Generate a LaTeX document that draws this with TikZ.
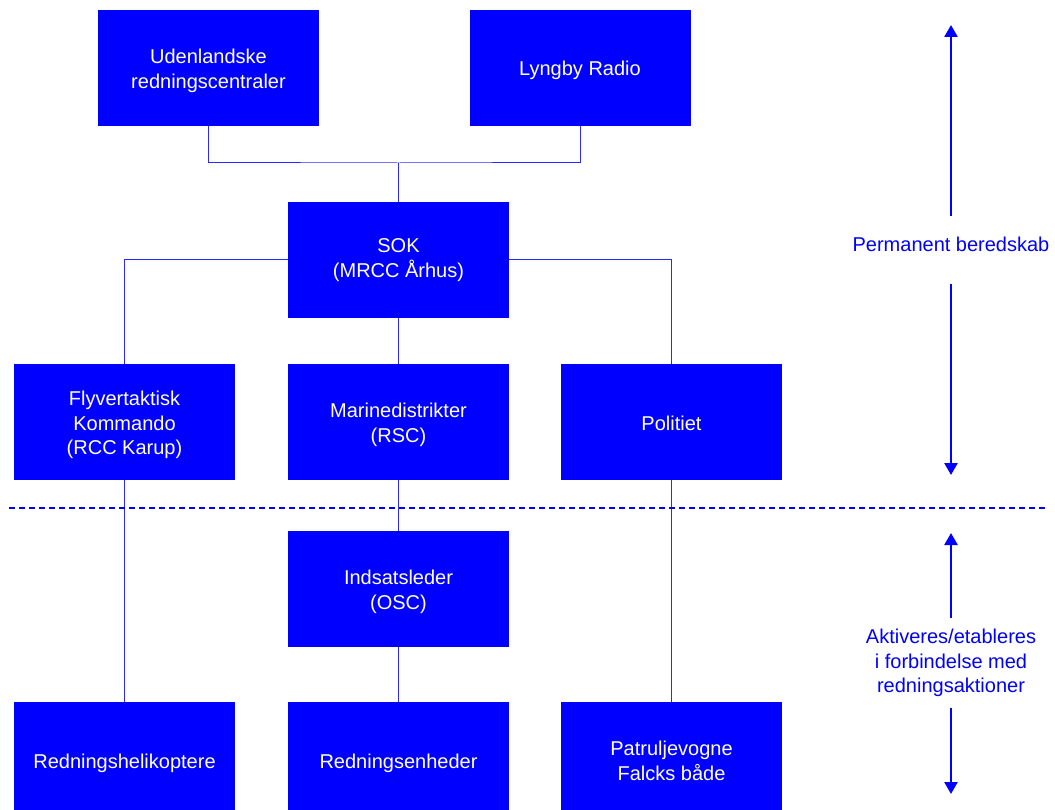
\documentclass[tikz,border=0pt]{standalone}
\usepackage{fontspec}
\setmainfont{Liberation Sans}
\usetikzlibrary{arrows.meta}
\definecolor{boxblue}{RGB}{0,0,255}
\definecolor{lineblue}{RGB}{40,40,255}
\newcommand{\linetop}{\rule{0pt}{20.25pt}}
\newcommand{\linebot}{\rule[-4.25pt]{0pt}{4.25pt}}
\tikzset{
  unit/.style={fill=boxblue, text=white, align=center, inner sep=0pt,
    minimum width=221pt, minimum height=116pt,
    font=\fontsize{20}{24.5}\selectfont},
  link/.style={draw=lineblue, line width=1pt},
  phase/.style={text=boxblue, align=center, inner sep=0pt,
    font=\fontsize{20}{24.5}\selectfont},
  span/.style={draw=boxblue, line width=2.5pt, -{Triangle[width=13pt,length=12pt]}}
}
\begin{document}
\begin{tikzpicture}[x=1pt,y=-1pt]
    \clip (0,0) rectangle (1055,810);
    % top row
    \node[unit] (uden) at (208.5,68) {\linetop Udenlandske\\redningscentraler\linebot};
    \node[unit] (lyngby) at (580,68) {\linetop Lyngby Radio\linebot};
    \node[unit] (sok) at (398.5,260) {\rule{0pt}{17.25pt}SOK\\(MRCC Århus)\rule[-7.25pt]{0pt}{7.25pt}};
    % permanent units
    \node[unit] (fly) at (124.5,422) {\linetop Flyvertaktisk\\Kommando\\(RCC Karup)\linebot};
    \node[unit] (marine) at (398.5,422) {\linetop Marinedistrikter\\(RSC)\linebot};
    \node[unit] (politi) at (671.5,422) {\linetop Politiet\linebot};
    % activated units
    \node[unit] (osc) at (398.5,589) {\linetop Indsatsleder\\(OSC)\linebot};
    \node[unit] (heli) at (124.5,760) {\linetop Redningshelikoptere\linebot};
    \node[unit] (enheder) at (398.5,760) {\linetop Redningsenheder\linebot};
    \node[unit] (patrulje) at (671.5,760) {\linetop Patruljevogne\\Falcks både\linebot};

    \coordinate (join) at (398.5,163);
    \draw[link] (uden.south) |- (join) -| (lyngby.south);
    \draw[link] (join) -- (sok.north);
    \draw[link] (sok.west) -| (fly.north);
    \draw[link] (sok.east) -| (politi.north);
    \draw[link] (sok.south) -- (marine.north);
    \draw[link] (marine.south) -- (osc.north);
    \draw[link] (osc.south) -- (enheder.north);
    \draw[link] (fly.south) -- (heli.north);
    \draw[link] (politi.south) -- (patrulje.north);

    % border between the two phases
    \coordinate (sepl) at (9,508);
    \coordinate (sepr) at (1048,508);
    \draw[boxblue, line width=2pt, dash pattern=on 6pt off 4pt] (sepl) -- (sepr);

    % right-hand labels
    \node[phase] (perm) at (951,244) {\linetop Permanent beredskab\linebot};
    \coordinate (permtop) at (951,25);
    \coordinate (permbot) at (951,475);
    \draw[span, shorten <=15.75pt] (perm.north) -- (permtop);
    \draw[span, shorten <=27.75pt] (perm.south) -- (permbot);

    \node[phase] (aktiv) at (951,660) {\linetop Aktiveres/etableres\\i forbindelse med\\redningsaktioner\linebot};
    \coordinate (aktivtop) at (951,533);
    \coordinate (aktivbot) at (951,794);
    \draw[span, shorten <=5.25pt] (aktiv.north) -- (aktivtop);
    \draw[span, shorten <=11.25pt] (aktiv.south) -- (aktivbot);
\end{tikzpicture}
\end{document}
